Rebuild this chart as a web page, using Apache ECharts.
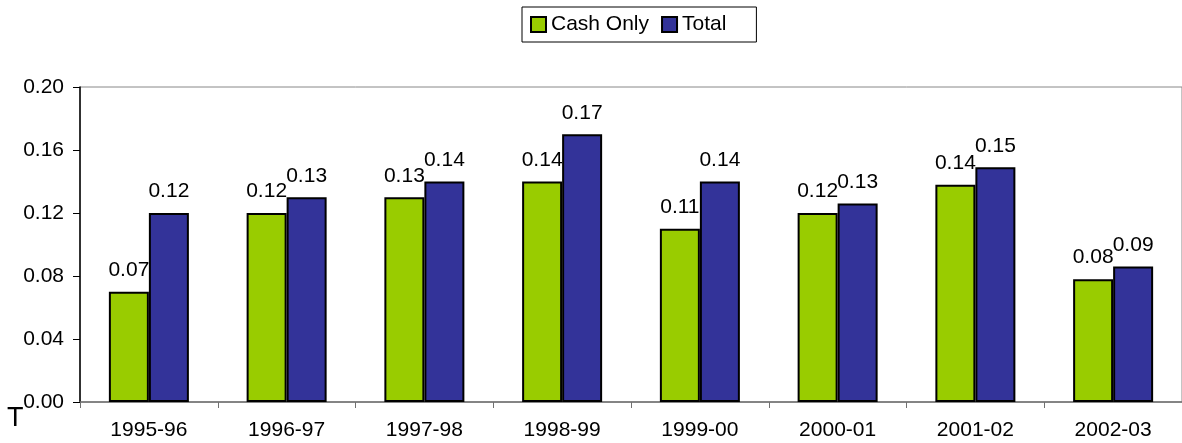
<!DOCTYPE html>
<html>
<head>
<meta charset="utf-8">
<script src="https://cdn.jsdelivr.net/npm/echarts@6/dist/echarts.min.js"></script>
<style>
  html, body { margin: 0; padding: 0; background: #fff; }
  #chart { width: 1182px; height: 443px; }
</style>
</head>
<body>
<div id="chart"></div>
<script>
// Fiscal years shown on the category axis
const categories = ['1995-96', '1996-97', '1997-98', '1998-99', '1999-00', '2000-01', '2001-02', '2002-03'];
// Ratio values per year
const cashOnly = [0.070, 0.120, 0.130, 0.140, 0.110, 0.120, 0.138, 0.078];
const total    = [0.120, 0.130, 0.140, 0.170, 0.140, 0.126, 0.149, 0.086];
// Value axis range and step
const yMin = 0;
const yMax = 0.20;
const yStep = 0.04;

const FONT = '"Liberation Sans", Arial, sans-serif';
const FS = 21;

const chart = echarts.init(document.getElementById('chart'), null, { renderer: 'canvas' });

const labelCfg = {
  show: true,
  position: 'top',
  distance: 11,
  color: '#000',
  fontSize: FS,
  fontFamily: FONT,
  formatter: p => p.value.toFixed(2)
};

chart.setOption({
  animation: false,
  backgroundColor: '#fff',
  textStyle: { fontFamily: FONT },
  legend: {
    left: 522,
    top: 7,
    padding: [7, 30, 7, 8],
    borderColor: '#000',
    borderWidth: 1,
    itemWidth: 15,
    itemHeight: 15,
    itemGap: 12,
    icon: 'rect',
    textStyle: { fontSize: FS, color: '#000', fontFamily: FONT },
    data: ['Cash Only', 'Total']
  },
  grid: {
    left: 80,
    top: 87,
    width: 1108,
    height: 315,
    show: true,
    borderColor: '#888',
    borderWidth: 1,
    backgroundColor: 'transparent'
  },
  xAxis: {
    type: 'category',
    data: categories,
    boundaryGap: true,
    axisLine: { lineStyle: { color: '#707070', width: 1.5 } },
    axisTick: { show: true, length: 6, inside: false, lineStyle: { color: '#707070' } },
    axisLabel: { color: '#000', fontSize: FS, fontFamily: FONT, margin: 18, interval: 0 },
    splitLine: { show: false }
  },
  yAxis: {
    type: 'value',
    min: yMin,
    max: yMax,
    interval: yStep,
    axisLine: { show: true, lineStyle: { color: '#000', width: 1.5 } },
    axisTick: { show: true, length: 7, lineStyle: { color: '#000' } },
    axisLabel: {
      color: '#000',
      fontSize: FS,
      fontFamily: FONT,
      margin: 16,
      formatter: v => v.toFixed(2)
    },
    splitLine: { show: false }
  },
  series: [
    {
      name: 'Cash Only',
      type: 'bar',
      data: cashOnly,
      barWidth: 40,
      barGap: '0%',
      itemStyle: { color: '#99CC00', borderColor: '#000', borderWidth: 2 },
      label: labelCfg
    },
    {
      name: 'Total',
      type: 'bar',
      data: total,
      barWidth: 40,
      barGap: '0%',
      itemStyle: { color: '#333399', borderColor: '#000', borderWidth: 2 },
      label: labelCfg
    }
  ],
  graphic: [
    {
      type: 'text',
      left: 7,
      top: 405,
      style: { text: 'T', fontSize: 27, fontFamily: FONT, fill: '#000' }
    }
  ]
});
</script>
</body>
</html>
